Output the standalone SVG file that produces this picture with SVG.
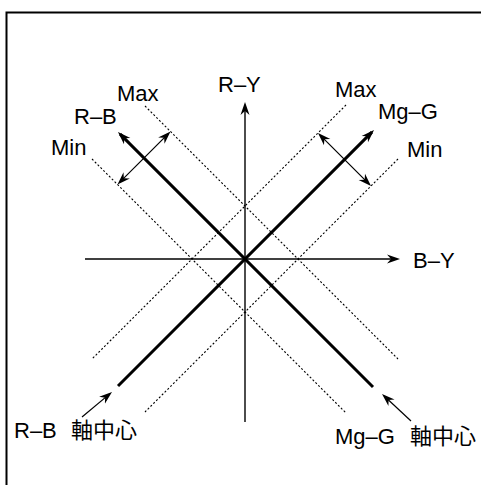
<svg xmlns="http://www.w3.org/2000/svg" width="481" height="485" viewBox="0 0 481 485">
<style>
.t{font-family:"Liberation Sans","Noto Sans CJK JP",sans-serif;font-size:22px;fill:#000}
.c{font-family:"Noto Sans CJK JP","Liberation Sans",sans-serif;font-size:22px;fill:#000}
.ax{stroke:#000;stroke-width:1.4;fill:none}
.thick{stroke:#000;stroke-width:3;fill:none}
.thin{stroke:#000;stroke-width:1.2;fill:none}
.dot{stroke:#000;stroke-width:1.1;stroke-dasharray:2 2;fill:none}
</style>
<defs>
<marker id="ah" viewBox="-13 -6 14 12" refX="-3" refY="0" markerWidth="14" markerHeight="12" markerUnits="userSpaceOnUse" orient="auto-start-reverse">
<path d="M0,0 L-13,-4.5 L-9,0 L-13,4.5 Z" fill="#000"/>
</marker>
</defs>
<rect width="481" height="485" fill="#fff"/>
<path d="M481,12.5 H6.5 V485" stroke="#000" stroke-width="2" fill="none"/>
<g id="connectors">
<line class="ax" x1="245" y1="422" x2="245" y2="105" marker-end="url(#ah)"/>
<line class="ax" x1="85" y1="259" x2="397" y2="259" marker-end="url(#ah)"/>
<line class="dot" x1="145" y1="106" x2="398" y2="359"/>
<line class="dot" x1="92" y1="159" x2="346" y2="413"/>
<line class="dot" x1="346" y1="105" x2="92" y2="359"/>
<line class="dot" x1="398" y1="159" x2="145" y2="412"/>
<line class="thick" x1="373" y1="387" x2="120.1" y2="134.1" marker-end="url(#ah)"/>
<line class="thick" x1="118" y1="386" x2="371.9" y2="132.1" marker-end="url(#ah)"/>
<line class="thin" x1="168.4" y1="133.6" x2="119.6" y2="182.4" marker-start="url(#ah)" marker-end="url(#ah)"/>
<line class="thin" x1="320.1" y1="135.1" x2="368.9" y2="183.9" marker-start="url(#ah)" marker-end="url(#ah)"/>
<line class="thin" x1="82" y1="417" x2="109.7" y2="393.9" marker-end="url(#ah)"/>
<line class="thin" x1="411" y1="421" x2="384.2" y2="396" marker-end="url(#ah)"/>
</g>
<g id="labels">
<text class="t" x="218" y="92">R–Y</text>
<text class="t" x="413" y="268">B–Y</text>
<text class="t" x="117" y="100.5">Max</text>
<text class="t" x="74" y="124">R–B</text>
<text class="t" x="51" y="155">Min</text>
<text class="t" x="335" y="97">Max</text>
<text class="t" x="378" y="118.5">Mg–G</text>
<text class="t" x="407" y="157">Min</text>
<text class="t" x="14" y="437.5">R–B</text>
<text class="c" x="71" y="437.5">軸中心</text>
<text class="t" x="335" y="444">Mg–G</text>
<text class="c" x="410" y="444">軸中心</text>
</g>
</svg>
